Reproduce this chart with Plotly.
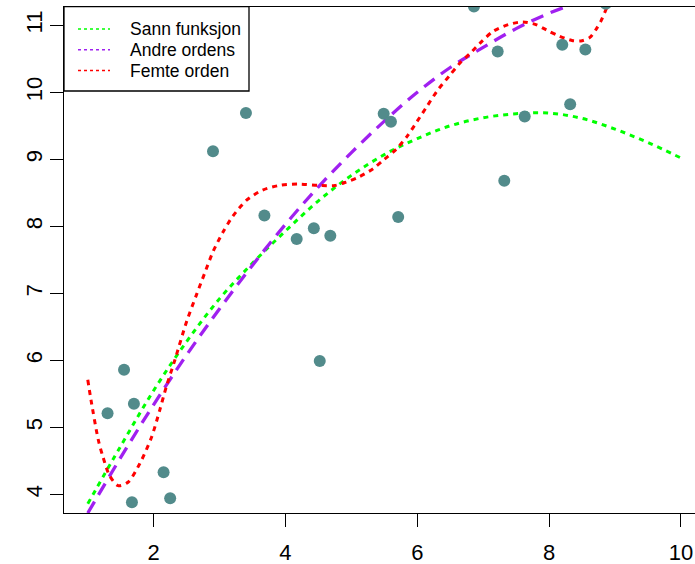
import plotly.graph_objects as go

# ---- data ----
pts_x = [1.30, 1.55, 1.67, 1.70, 2.15, 2.25, 2.90, 3.40, 3.68, 4.17, 4.43, 4.52,
         4.68, 5.49, 5.60, 5.71, 6.86, 7.22, 7.32, 7.63, 8.20, 8.32, 8.55, 8.86]
pts_y = [5.21, 5.86, 3.88, 5.35, 4.33, 3.94, 9.12, 9.69, 8.16, 7.81, 7.97, 5.99,
         7.86, 9.68, 9.56, 8.14, 11.28, 10.61, 8.68, 9.64, 10.71, 9.82, 10.64, 11.32]

true_x = [1.0, 1.5, 2.0, 2.5, 3.0, 3.5, 4.0, 4.5, 5.0, 5.5, 6.0, 6.5, 7.0, 7.5,
          8.0, 8.5, 9.0, 9.5, 10.0]
true_y = [3.86, 4.72, 5.55, 6.28, 6.92, 7.45, 7.93, 8.38, 8.76, 9.07, 9.31, 9.50,
          9.62, 9.68, 9.69, 9.61, 9.45, 9.25, 9.02]

quad_x = [1.0, 1.5, 2.0, 2.5, 3.0, 3.5, 4.0, 4.5, 5.0, 5.5, 6.0, 6.5, 7.0, 7.5,
          8.0, 8.5, 9.0]
quad_y = [3.72, 4.55, 5.34, 6.08, 6.77, 7.42, 8.03, 8.59, 9.10, 9.57, 10.0, 10.37,
          10.67, 10.95, 11.18, 11.36, 11.50]

quint_x = [1.00, 1.05, 1.16, 1.23, 1.33, 1.46, 1.61, 1.79, 1.97, 2.09, 2.19, 2.32,
           2.50, 2.65, 2.77, 2.90, 3.05, 3.20, 3.41, 3.65, 3.91, 4.20, 4.52, 4.75,
           4.92, 5.10, 5.33, 5.50, 5.68, 5.85, 6.04, 6.14, 6.30, 6.49, 6.65, 6.80,
           6.98, 7.15, 7.38, 7.60, 7.80, 7.96, 8.15, 8.36, 8.50, 8.62, 8.72, 8.79,
           8.87, 8.95]
quint_y = [5.71, 5.40, 4.81, 4.56, 4.28, 4.13, 4.18, 4.46, 4.86, 5.25, 5.60, 6.00,
           6.58, 6.98, 7.29, 7.62, 7.91, 8.15, 8.39, 8.54, 8.61, 8.63, 8.61, 8.61,
           8.66, 8.73, 8.86, 9.00, 9.15, 9.35, 9.63, 9.78, 10.02, 10.25, 10.44, 10.58,
           10.76, 10.91, 11.01, 11.05, 11.01, 10.93, 10.84, 10.77, 10.77, 10.82, 10.95, 11.07,
           11.25, 11.45]

x_ticks = [2, 4, 6, 8, 10]
y_ticks = [4, 5, 6, 7, 8, 9, 10, 11]
legend_labels = ["Sann funksjon", "Andre ordens", "Femte orden"]
legend_colors = ["#00FF00", "#A020F0", "#FF0000"]

FONT = "Liberation Sans, Arial, Helvetica, sans-serif"
W, H = 695, 564
L, R, T, B = 64, 0, 7, 51
PW, PH = W - L - R, H - T - B

def px_x(px):
    return (px - L) / PW

def px_y(py):
    return (H - B - py) / PH

fig = go.Figure()
fig.add_trace(go.Scatter(x=true_x, y=true_y, mode="lines", showlegend=False,
                         line=dict(color="#00FF00", width=3, dash="5px,5px", shape="spline")))
fig.add_trace(go.Scatter(x=quad_x, y=quad_y, mode="lines", showlegend=False,
                         line=dict(color="#A020F0", width=3.3, dash="13px,8px", shape="spline")))
fig.add_trace(go.Scatter(x=quint_x, y=quint_y, mode="lines", showlegend=False,
                         line=dict(color="#FF0000", width=3, dash="5px,5px", shape="spline",
                                   smoothing=0.8)))
fig.add_trace(go.Scatter(x=pts_x, y=pts_y, mode="markers", showlegend=False,
                         marker=dict(color="#528B8B", size=12, line=dict(width=0))))

shapes = [dict(type="rect", xref="paper", yref="paper",
               x0=px_x(64), x1=px_x(249), y0=px_y(91), y1=px_y(6.7),
               line=dict(color="black", width=1.3), fillcolor="white", layer="above")]
annotations = []
for i, (lab, col) in enumerate(zip(legend_labels, legend_colors)):
    yc = 29 + i * 20.8
    shapes.append(dict(type="line", xref="paper", yref="paper",
                       x0=px_x(78), x1=px_x(110), y0=px_y(yc), y1=px_y(yc),
                       line=dict(color=col, width=1.5, dash="3px,3px"), layer="above"))
    annotations.append(dict(xref="paper", yref="paper", x=px_x(128), y=px_y(yc),
                            text=lab, showarrow=False, xanchor="left", yanchor="middle",
                            font=dict(family=FONT, size=17.5, color="black")))

fig.update_layout(
    width=W, height=H,
    margin=dict(l=L, r=R, t=T, b=B, pad=0),
    paper_bgcolor="white", plot_bgcolor="white",
    shapes=shapes, annotations=annotations,
    font=dict(family=FONT, size=22, color="black"),
    xaxis=dict(range=[0.639, 10.214], tickmode="array", tickvals=x_ticks,
               ticks="outside", ticklen=13, tickwidth=1.3, tickcolor="black",
               showline=True, linecolor="black", linewidth=1.3, mirror=True,
               showgrid=False, zeroline=False, tickfont=dict(size=22),
               ticklabelstandoff=6),
    yaxis=dict(range=[3.721, 11.273], tickmode="array", tickvals=y_ticks,
               ticks="outside", ticklen=13, tickwidth=1.3, tickcolor="black",
               showline=True, linecolor="black", linewidth=1.3, mirror=False,
               showgrid=False, zeroline=False, tickangle=-90, tickfont=dict(size=22),
               ticklabelstandoff=-1),
)
fig.write_html("out.html")
